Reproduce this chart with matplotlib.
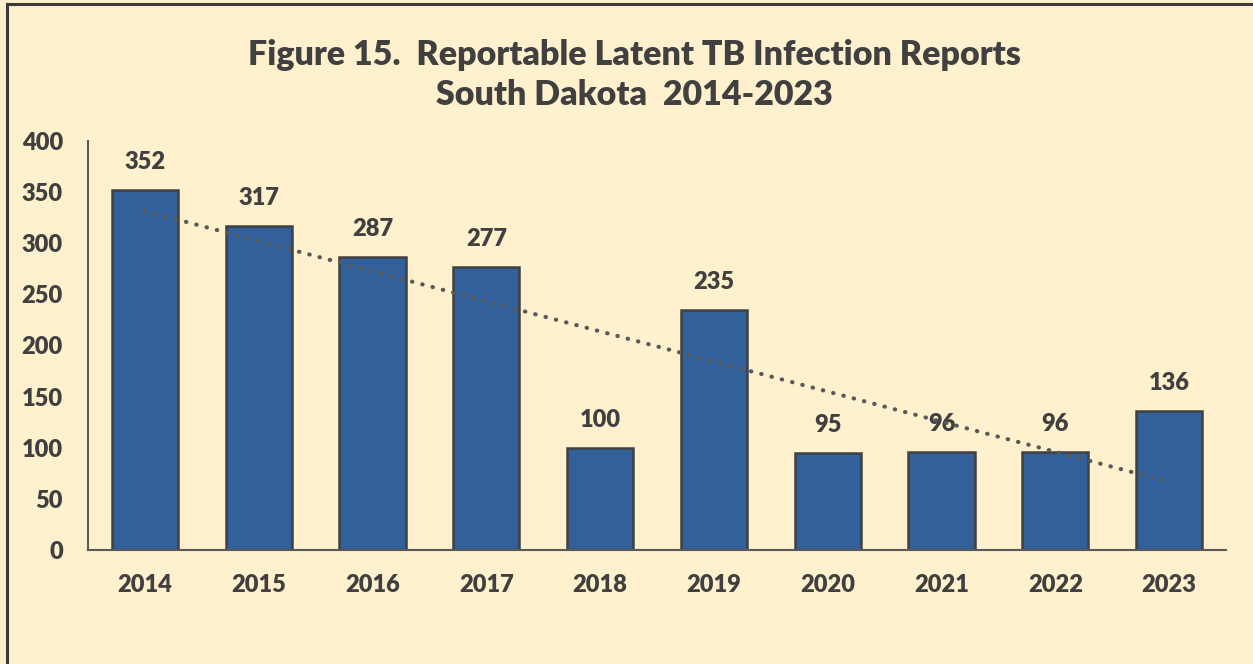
import numpy as np
import matplotlib
matplotlib.use('Agg')
import matplotlib.pyplot as plt
from matplotlib.patches import Rectangle

# values
years = ['2014', '2015', '2016', '2017', '2018', '2019', '2020', '2021', '2022', '2023']
reports = [352, 317, 287, 277, 100, 235, 95, 96, 96, 136]
yticks = [0, 50, 100, 150, 200, 250, 300, 350, 400]

bg = '#FFF1CD'
txt = '#404040'
bar_col = '#31609A'

plt.rcParams['font.family'] = ['Lato', 'DejaVu Sans']
plt.rcParams['font.weight'] = 'bold'

W, H = 1253, 664
fig = plt.figure(figsize=(W / 100, H / 100), dpi=100)
fig.patch.set_facecolor(bg)

# outer border (only top and left visible in the crop)
fig.patches.append(Rectangle((7 / W, -0.05), 1.1, (H - 4) / H + 0.05,
                             transform=fig.transFigure, fill=False,
                             edgecolor='#3A3A3A', linewidth=2.2))

ax = fig.add_axes([88 / W, 1 - 550 / H, (1226 - 88) / W, (550 - 141) / H])
ax.set_facecolor(bg)

x = np.arange(len(years))
ax.bar(x, reports, width=0.58, color=bar_col, edgecolor=txt, linewidth=1.8, zorder=2)

for xi, v in zip(x, reports):
    ax.annotate(str(v), (xi, v), xytext=(0, 12), textcoords='offset points',
                ha='center', va='bottom', fontsize=17, color=txt, fontweight='heavy')

# linear trendline
k, b = np.polyfit(x, reports, 1)
ax.plot(x, k * x + b, linestyle=(0, (0.1, 2.45)), color='#595959', linewidth=3.0,
        dash_capstyle='round', zorder=3)

ax.set_xlim(-0.5, 9.5)
ax.set_ylim(0, 400)
ax.set_yticks(yticks)
ax.set_xticks(x)
ax.set_xticklabels(years)
ax.tick_params(axis='both', length=0, labelsize=17, colors=txt)
ax.tick_params(axis='y', pad=18)
ax.tick_params(axis='x', pad=17)
for lab in ax.get_xticklabels() + ax.get_yticklabels():
    lab.set_fontweight('heavy')

for s in ['top', 'right']:
    ax.spines[s].set_visible(False)
for s in ['left', 'bottom']:
    ax.spines[s].set_color('#595959')
    ax.spines[s].set_linewidth(1.5)

fig.text(634 / W, 1 - 55 / H, 'Figure 15.  Reportable Latent TB Infection Reports',
         ha='center', va='center', fontsize=24.5, color=txt, fontweight='heavy')
fig.text(634 / W, 1 - 95 / H, 'South Dakota  2014-2023',
         ha='center', va='center', fontsize=24.5, color=txt, fontweight='heavy')

fig.savefig('out.png', dpi=100, facecolor=bg)
